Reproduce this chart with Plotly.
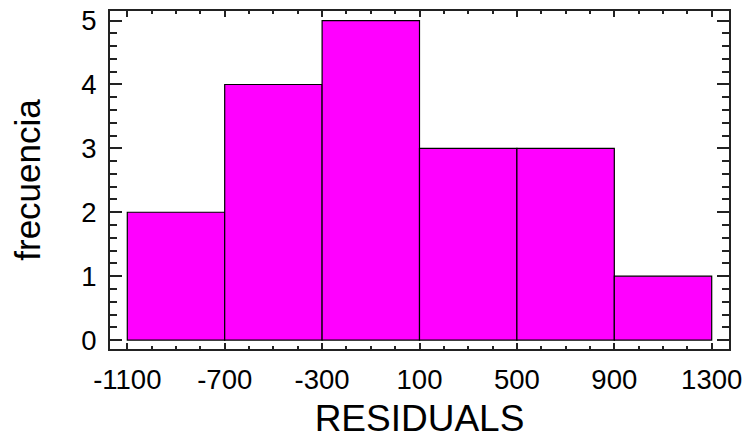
import plotly.graph_objects as go

bin_starts = [-1100, -700, -300, 100, 500, 900]
bin_width = 400
counts = [2, 4, 5, 3, 3, 1]
x_ticks = [-1100, -700, -300, 100, 500, 900, 1300]
y_ticks = [0, 1, 2, 3, 4, 5]

centers = [s + bin_width / 2 for s in bin_starts]

fig = go.Figure(go.Bar(
    x=centers, y=counts, width=[bin_width] * len(counts),
    marker=dict(color="#FF00FF", line=dict(color="black", width=1.2)),
))

font = "Liberation Sans, Arial, sans-serif"
fig.update_layout(
    width=746, height=439,
    margin=dict(l=110, r=17, t=11, b=90),
    paper_bgcolor="white", plot_bgcolor="white",
    showlegend=False,
    font=dict(family=font, color="black"),
)
fig.update_xaxes(
    range=[-1171, 1371], tickvals=x_ticks, ticktext=[str(v) for v in x_ticks],
    ticks="inside", ticklen=6, tickwidth=1.5, tickcolor="#222",
    minor=dict(dtick=100, tick0=-1100, ticks="inside", ticklen=3, tickwidth=1.5, tickcolor="#222"),
    showline=True, linecolor="#222", linewidth=1.7, mirror="ticks",
    showgrid=False, zeroline=False, automargin=False,
    tickfont=dict(size=27.5), ticklabelstandoff=5,
    title=dict(text="RESIDUALS", font=dict(size=37), standoff=15),
)
fig.update_yaxes(
    range=[-0.14, 5.15], tickvals=y_ticks,
    ticks="inside", ticklen=12, tickwidth=1.5, tickcolor="#222",
    minor=dict(dtick=0.2, tick0=0, ticks="inside", ticklen=7, tickwidth=1.5, tickcolor="#222"),
    showline=True, linecolor="#222", linewidth=1.7, mirror="ticks",
    showgrid=False, zeroline=False, automargin=False,
    tickfont=dict(size=27.5), ticklabelstandoff=6,
    title=dict(text="frecuencia", font=dict(size=35), standoff=30),
)

fig.write_html("out.html", config={"displayModeBar": False},
               post_script="document.body.style.margin='0px';document.body.style.padding='0px';")
